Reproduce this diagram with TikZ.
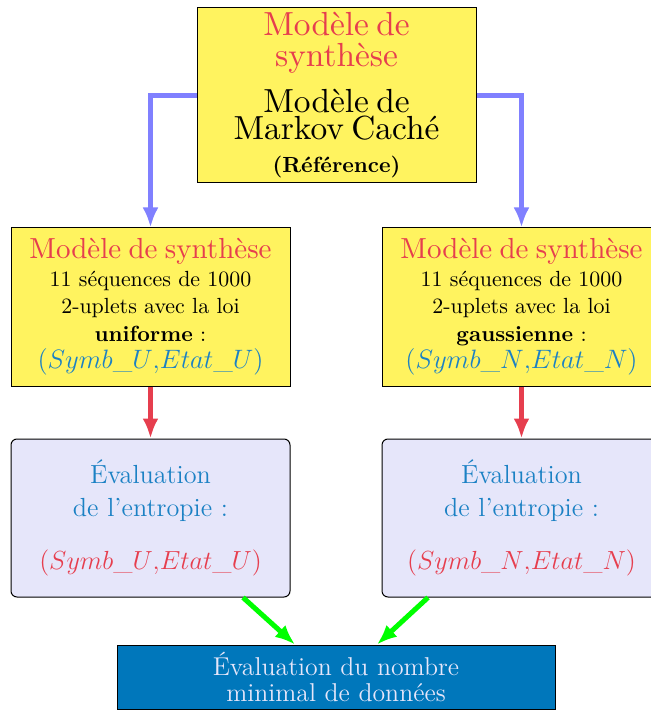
\documentclass[tikz,border=0pt]{standalone}
\usepackage{fix-cm}
\usepackage{amsmath}
\usepackage{fontspec}
\usepackage{tikz}
\usetikzlibrary{arrows.meta}

\newfontfamily\lmdix{lmroman10-regular.otf}

\definecolor{jaune}{RGB}{255,243,95}
\definecolor{rouge}{RGB}{230,62,78}
\definecolor{bleutexte}{RGB}{27,129,196}
\definecolor{lavande}{RGB}{230,230,250}
\definecolor{bleufonce}{RGB}{0,119,187}
\definecolor{bleuligne}{RGB}{128,128,255}
\definecolor{vert}{RGB}{0,255,0}

\begin{document}
\begin{tikzpicture}[x=0.5pt,y=-0.5pt,
	boitejaune/.style={shape=rectangle,draw=black,line width=0.5pt,fill=jaune,inner sep=0pt,
		minimum width=139.5pt,text width=134pt,align=center,font=\fontsize{10.95}{13.75}\selectfont},
	boitelavande/.style={shape=rectangle,draw=black,line width=0.5pt,fill=lavande,rounded corners=3pt,inner sep=0pt,
		minimum width=139.5pt,minimum height=79pt,text width=134pt,align=center,text=bleutexte,font=\fontsize{13.1}{16.7}\selectfont},
	boitebleue/.style={shape=rectangle,draw=black,line width=0.5pt,fill=bleufonce,inner sep=0pt,
		minimum width=219pt,minimum height=32pt,text width=210pt,align=center,text=lavande,font=\fontsize{12.9}{13.4}\selectfont},
	fleche/.style={line width=2.5pt,-{Latex[length=10pt,width=8pt]}}]
	\useasboundingbox (0,0) rectangle (651,710);

	\node[boitejaune,minimum height=87.5pt,font=\fontsize{10.95}{13.5}\selectfont] (haut) at (336.5,95.5)
		{\textcolor{rouge}{\lmdix\fontsize{16.7}{13.5}\selectfont Modèle de}\\[2pt]\textcolor{rouge}{\lmdix\fontsize{16.7}{13.5}\selectfont synthèse}\\[6.5pt]
		{\lmdix\fontsize{16.7}{13.5}\selectfont Modèle de}\\{\lmdix\fontsize{16.7}{13.5}\selectfont Markov Caché}\\[3.4pt]\textbf{(Référence)}};
	\node[boitejaune,minimum height=79pt] (gauche) at (150.5,307)
		{\textcolor{rouge}{\lmdix\fontsize{14.5}{13.75}\selectfont Modèle de synthèse}\\11 séquences de 1000\\2-uplets avec la loi\\
		\textbf{uniforme} :\\\textcolor{bleutexte}{\fontsize{13.3}{13.75}\selectfont$(Symb\_U{,}Etat\_U)$}};
	\node[boitejaune,minimum height=79pt] (droite) at (521.5,307)
		{\textcolor{rouge}{\lmdix\fontsize{14.5}{13.75}\selectfont Modèle de synthèse}\\11 séquences de 1000\\2-uplets avec la loi\\
		\textbf{gaussienne} :\\\textcolor{bleutexte}{\fontsize{13.3}{13.75}\selectfont$(Symb\_N{,}Etat\_N)$}};
	\node[boitelavande] (entG) at (150.5,518)
		{Évaluation\\de l'entropie :\\[10pt]\textcolor{rouge}{$(Symb\_U{,}Etat\_U)$}};
	\node[boitelavande] (entD) at (521.5,518)
		{Évaluation\\de l'entropie :\\[10pt]\textcolor{rouge}{$(Symb\_N{,}Etat\_N)$}};
	\node[boitebleue] (final) at (336,677) {Évaluation du nombre\\minimal de données};

	\draw[fleche,bleuligne] (haut.west) -| (gauche.north);
	\draw[fleche,bleuligne] (haut.east) -| (droite.north);
	\draw[fleche,rouge] (gauche) -- (entG);
	\draw[fleche,rouge] (droite) -- (entD);
	\draw[fleche,vert] ([xshift=46.25pt]entG.south) -- ([xshift=-20.5pt]final.north);
	\draw[fleche,vert] ([xshift=-46.75pt]entD.south) -- ([xshift=20.5pt]final.north);

\end{tikzpicture}
\end{document}
